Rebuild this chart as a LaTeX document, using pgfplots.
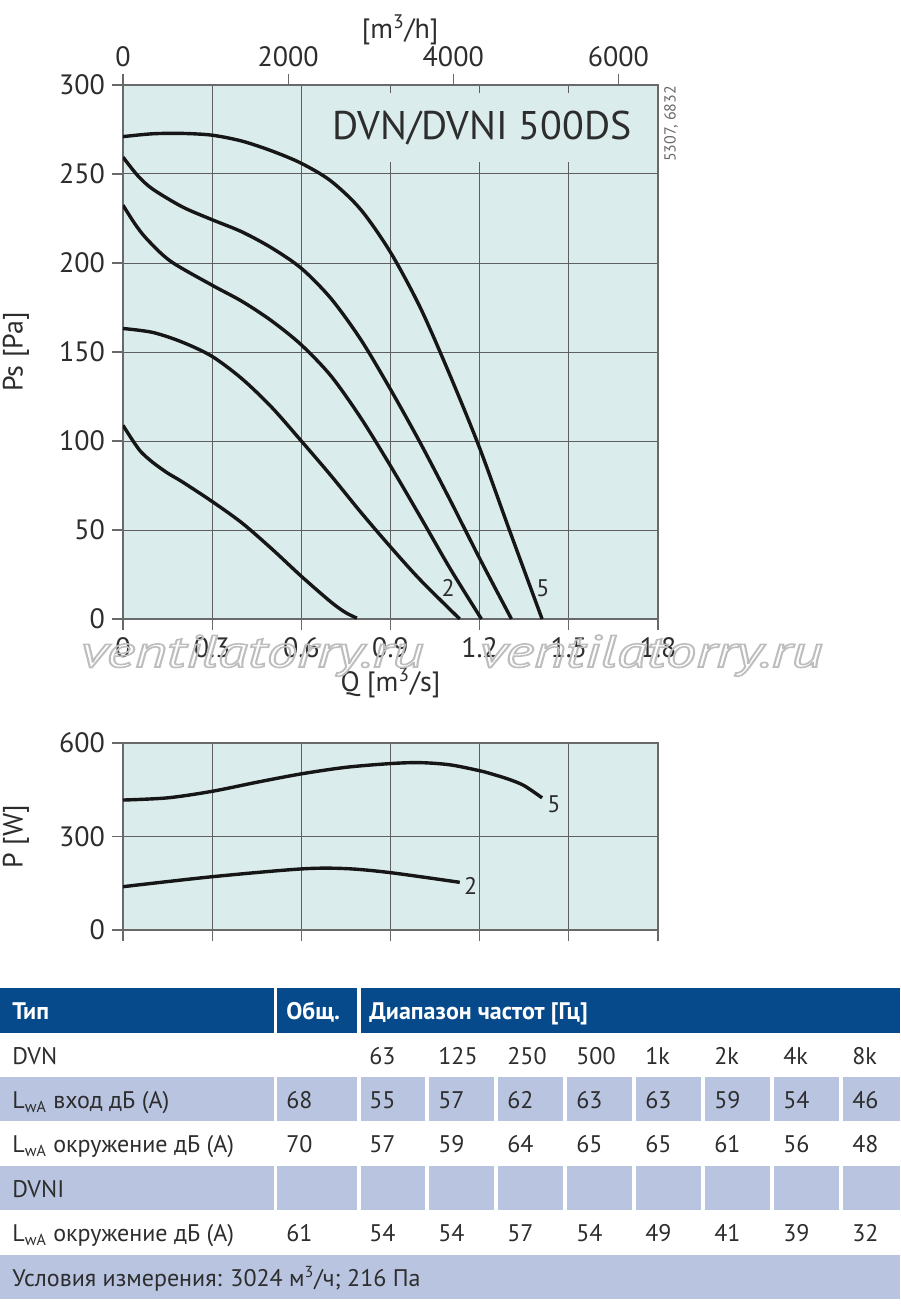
\documentclass[border=0pt]{standalone}
\usepackage{pgfplots}
\pgfplotsset{compat=1.18}
\usepackage{fontspec}
\setmainfont{PT Sans}
\usepackage{graphicx}
\definecolor{bgc}{RGB}{218,236,235}
\definecolor{gridc}{RGB}{95,95,95}
\definecolor{axc}{RGB}{105,105,105}
\definecolor{txt}{RGB}{45,45,45}
\definecolor{hdr}{RGB}{6,74,140}
\definecolor{rowc}{RGB}{184,196,224}
\definecolor{crv}{RGB}{22,22,22}
\definecolor{wm}{RGB}{190,190,190}
\newcommand\outl[1]{\special{pdf:literal direct 1 Tr 0.35 w}#1\special{pdf:literal direct 0 Tr}}
\pgfplotsset{
  common/.style={
    scale only axis, width=267.5pt,
    xmin=0, xmax=1.8,
    /pgf/number format/assume math mode=true,
    axis background/.style={fill=bgc},
    grid=major, grid style={gridc, line width=0.5pt},
    axis line style={axc, line width=0.6pt},
    tick style={axc, line width=0.6pt},
    major tick length=5.5pt,
    tick align=outside,
    xtick pos=left, ytick pos=left,
    xtick={0,0.3,0.6,0.9,1.2,1.5,1.8},
    tick label style={font=\fontsize{14}{16}\selectfont, text=txt},
    label style={font=\fontsize{14}{16}\selectfont, text=txt},
  }
}
\begin{document}
\begin{tikzpicture}
\path[use as bounding box] (0,0) rectangle (450pt,-652.5pt);
% main Ps chart
\begin{axis}[common,
  at={(61.5pt,-309.5pt)}, anchor=south west, height=267pt,
  ymin=0, ymax=300,
  ytick={0,50,100,150,200,250,300},
  yticklabels={0,50,100,150,200,250,300},
  xticklabels={0,0.3,0.6,0.9,1.2,1.5,1.8},
  xlabel={Q [m\textsuperscript{3}/s]},
  xlabel style={at={(axis description cs:0.5,-0.12)}, anchor=center},
  ylabel={Ps [Pa]},
  ylabel style={at={(axis description cs:-0.2,0.5)}, anchor=center},
]
\node[fill=bgc, inner sep=0pt, minimum width=155pt, minimum height=34.5pt,
  font=\fontsize{20}{24}\selectfont, text=txt] at (axis cs:1.208,276) {DVN/DVNI 500DS};
\addplot[crv, line width=1.7pt, smooth] coordinates {
(0,271) (0.1,272.6) (0.2,272.8) (0.3,271.8) (0.4,268.5) (0.5,263) (0.6,256) (0.7,246) (0.8,230) (0.9,206) (1.0,175) (1.1,137) (1.2,96) (1.3,50) (1.41,0)};
\addplot[crv, line width=1.7pt, smooth] coordinates {
(0,259.5) (0.05,249) (0.1,241.5) (0.2,231.5) (0.3,224.3) (0.4,217.5) (0.5,208.5) (0.6,197) (0.7,180) (0.8,157) (0.9,129) (1.0,99) (1.1,67) (1.2,34) (1.307,0)};
\addplot[crv, line width=1.7pt, smooth] coordinates {
(0,232.5) (0.04,222) (0.08,213.5) (0.16,201) (0.3,187.5) (0.4,178.5) (0.5,167.5) (0.6,154) (0.7,136.5) (0.8,113) (0.9,86) (1.0,57.5) (1.1,28.5) (1.206,0)};
\addplot[crv, line width=1.7pt, smooth] coordinates {
(0,163.2) (0.1,161) (0.2,155.5) (0.3,147.5) (0.4,135) (0.5,119) (0.6,100) (0.7,80.5) (0.8,60) (0.9,40.5) (1.0,22) (1.133,0)};
\addplot[crv, line width=1.7pt, smooth] coordinates {
(0,108.8) (0.03,101) (0.06,94) (0.1,88) (0.15,82) (0.2,77) (0.3,66) (0.4,54) (0.5,39.5) (0.6,24) (0.7,9.5) (0.75,3.5) (0.787,0.5)};
\node[font=\fontsize{12}{14}\selectfont, text=txt] at (axis cs:1.094,17.4) {2};
\node[font=\fontsize{12}{14}\selectfont, text=txt] at (axis cs:1.413,17.4) {5};
\end{axis}
% top m3/h axis
\begin{axis}[
  at={(61.5pt,-309.5pt)}, anchor=south west, scale only axis,
  width=267.5pt, height=267pt,
  xmin=0, xmax=6480, ymin=0, ymax=300,
  axis x line*=top, axis y line=none,
  axis line style={axc, line width=0.6pt, -},
  tick style={axc, line width=0.6pt},
  major tick length=5.5pt, tick align=outside,
  xtick={0,2000,4000,6000}, xticklabels={0,2000,4000,6000},
  tick label style={font=\fontsize{14}{16}\selectfont, text=txt},
  xlabel={[m\textsuperscript{3}/h]},
  xlabel style={at={(axis description cs:0.518,1.103)}, anchor=center, font=\fontsize{14}{16}\selectfont, text=txt},
]
\addplot[draw=none] coordinates {(0,0)};
\end{axis}
% power chart
\begin{axis}[common,
  at={(61.5pt,-465pt)}, anchor=south west, height=93.5pt,
  ymin=0, ymax=600,
  ytick={0,300,600}, yticklabels={0,300,600},
  xticklabels={},
  ylabel={P [W]},
  ylabel style={at={(axis description cs:-0.2,0.5)}, anchor=center},
]
\addplot[crv, line width=1.7pt, smooth] coordinates {
(0,417) (0.15,424) (0.3,445) (0.45,474) (0.6,501) (0.75,522) (0.9,534) (1.0,537) (1.1,530) (1.2,511) (1.25,498) (1.3,483) (1.35,463) (1.41,424)};
\addplot[crv, line width=1.7pt, smooth] coordinates {
(0,139) (0.3,171) (0.6,196) (0.75,197) (0.9,184) (1.133,153)};
\node[font=\fontsize{12}{14}\selectfont, text=txt] at (axis cs:1.45,405) {5};
\node[font=\fontsize{12}{14}\selectfont, text=txt] at (axis cs:1.17,142) {2};
\end{axis}
\begin{scope}[x=0.5pt, y=-0.5pt]
\node[rotate=90, font=\fontsize{8}{10}\selectfont, text=axc, inner sep=0pt] at (671,124) {5307, 6832};
% watermark
\node[anchor=base west, inner sep=0pt, text=wm] at (80,667) {\resizebox{171.5pt}{16pt}{\itshape\outl{ventilatorry.ru}}};
\node[anchor=base west, inner sep=0pt, text=wm] at (479,667) {\resizebox{171.5pt}{16pt}{\itshape\outl{ventilatorry.ru}}};
% table
\fill[hdr] (0,988) rectangle (274,1033);
\fill[hdr] (277,988) rectangle (356.5,1033);
\fill[hdr] (360.5,988) rectangle (900,1033);
\foreach \a/\b in {0/274,277/356.5,360.5/425,429/494,498/563,567/632,636/701,705/770,774/839,843/900} {
  \fill[rowc] (\a,1077) rectangle (\b,1121);
  \fill[rowc] (\a,1166) rectangle (\b,1210);
}
\fill[rowc] (0,1255) rectangle (900,1299);
\begin{scope}[every node/.style={anchor=base west, inner sep=0pt, font=\fontsize{12}{14}\selectfont, text=txt}]
\node[text=white, font=\bfseries\fontsize{12}{14}\selectfont] at (12,1019) {Тип};
\node[text=white, font=\bfseries\fontsize{12}{14}\selectfont] at (286,1019) {Общ.};
\node[text=white, font=\bfseries\fontsize{12}{14}\selectfont] at (369,1019) {Диапазон частот [Гц]};
\node at (12,1064.5) {DVN};
\node at (12,1108.5) {L\textsubscript{wA} вход дБ (A)};
\node at (12,1152.5) {L\textsubscript{wA} окружение дБ (A)};
\node at (12,1197.5) {DVNI};
\node at (12,1241.5) {L\textsubscript{wA} окружение дБ (A)};
\node at (12,1286.5) {Условия измерения: 3024 м\textsuperscript{3}/ч; 216 Па};
\foreach \x/\v in {369/63,438/125,507/250,576/500,645/1k,714/2k,783/4k,852/8k} {\node at (\x,1064.5) {\v};}
\foreach \x/\v in {286/68,369/55,438/57,507/62,576/63,645/63,714/59,783/54,852/46} {\node at (\x,1108.5) {\v};}
\foreach \x/\v in {286/70,369/57,438/59,507/64,576/65,645/65,714/61,783/56,852/48} {\node at (\x,1152.5) {\v};}
\foreach \x/\v in {286/61,369/54,438/54,507/57,576/54,645/49,714/41,783/39,852/32} {\node at (\x,1241.5) {\v};}
\end{scope}
\end{scope}
\end{tikzpicture}
\end{document}
